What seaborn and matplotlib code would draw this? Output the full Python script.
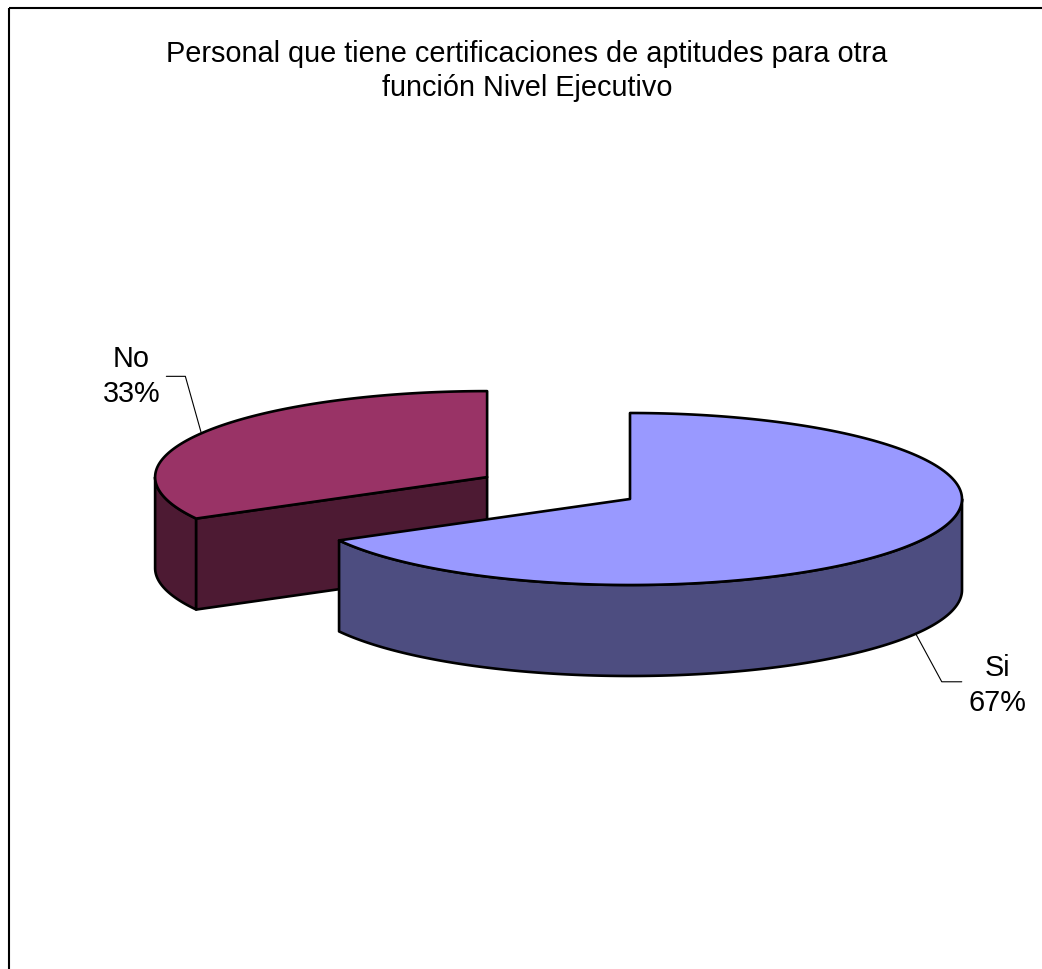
import numpy as np
import matplotlib
matplotlib.use("Agg")
import matplotlib.pyplot as plt
from matplotlib.patches import Polygon, Rectangle
import seaborn as sns

# Data
categories = ["Si", "No"]
values = [67, 33]
pct_labels = ["67%", "33%"]
explode = [0.0, 0.5]
top_colors = ["#9999FF", "#993366"]
side_colors = ["#4D4D80", "#4D1A33"]

title = "Personal que tiene certificaciones de aptitudes para otra\nfunción Nivel Ejecutivo"

sns.set_theme(style="white")
plt.rcParams["font.family"] = ["Liberation Sans", "DejaVu Sans"]

W, H = 1042, 969
fig = plt.figure(figsize=(W / 100, H / 100), dpi=100)
ax = fig.add_axes([0, 0, 1, 1])
ax.set_xlim(0, W)
ax.set_ylim(H, 0)
ax.axis("off")

# Chart frame (extends past the right and bottom edges)
ax.add_patch(Rectangle((9, 8), 1200, 1200, fill=False, edgecolor="black",
                       linewidth=1.5, zorder=0))

# 3D pie geometry (screen units, y pointing down)
cx0, cy0 = 630, 499
A, B = 332, 86
DEPTH = 91
EDGE = dict(edgecolor="black", linewidth=1.9, joinstyle="round")


def rim(cx, cy, t, dz=0.0):
    return cx + A * np.cos(t), cy - B * np.sin(t) + dz


def arc(cx, cy, t1, t2, dz=0.0, n=200):
    ts = np.linspace(t1, t2, n)
    x, y = rim(cx, cy, ts, dz)
    return np.column_stack([x, y])


total = float(sum(values))
start = np.pi / 2
slices = []
for i, v in enumerate(values):
    span = 2 * np.pi * v / total
    t2 = start
    t1 = start - span
    start = t1
    mid = (t1 + t2) / 2
    cx = cx0 + explode[i] * A * np.cos(mid)
    cy = cy0 - explode[i] * B * np.sin(mid)
    slices.append(dict(i=i, t1=t1, t2=t2, mid=mid, cx=cx, cy=cy))

# draw slices from back to front
slices.sort(key=lambda s: s["cy"])

for order, s in enumerate(slices):
    i, t1, t2, cx, cy = s["i"], s["t1"], s["t2"], s["cx"], s["cy"]
    z = 2 + 3 * order
    # outer wall: portion of the arc facing the viewer (sin < 0)
    for k in range(-2, 3):
        lo = max(t1, -np.pi + 2 * np.pi * k)
        hi = min(t2, 0 + 2 * np.pi * k)
        if hi > lo:
            top = arc(cx, cy, lo, hi)
            bot = arc(cx, cy, hi, lo, DEPTH)
            ax.add_patch(Polygon(np.vstack([top, bot]), closed=True,
                                 facecolor=side_colors[i], zorder=z, **EDGE))
    # radial faces
    for t, visible in ((t1, np.cos(t1) > 1e-9), (t2, np.cos(t2) < -1e-9)):
        if visible:
            px, py = rim(cx, cy, t)
            quad = [(cx, cy), (px, py), (px, py + DEPTH), (cx, cy + DEPTH)]
            ax.add_patch(Polygon(quad, closed=True, facecolor=side_colors[i],
                                 zorder=z + 1, **EDGE))
    # top face
    pts = np.vstack([[cx, cy], arc(cx, cy, t1, t2), [cx, cy]])
    ax.add_patch(Polygon(pts, closed=True, facecolor=top_colors[i],
                         zorder=z + 2, **EDGE))

# Category labels with leader lines
FS = 20.8
lab_font = dict(fontsize=FS, color="black", ha="center", va="center",
                linespacing=1.3, zorder=20)
for s in slices:
    i, mid, cx, cy = s["i"], s["mid"], s["cx"], s["cy"]
    if np.sin(mid) > 0:
        ax_, ay_ = rim(cx, cy, mid)
        elbow = (ax_ - 16, ay_ - 57)
        end = (elbow[0] - 19, elbow[1])
        ax.plot([ax_, elbow[0], end[0]], [ay_, elbow[1], end[1]],
                color="black", linewidth=0.8, zorder=20)
        ax.text(end[0] - 35, end[1], f"{categories[i]}\n{pct_labels[i]}",
                **lab_font)
    else:
        ax_, ay_ = rim(cx, cy, mid, DEPTH)
        elbow = (ax_ + 26, ay_ + 48)
        end = (elbow[0] + 20, elbow[1])
        ax.plot([ax_, elbow[0], end[0]], [ay_, elbow[1], end[1]],
                color="black", linewidth=0.8, zorder=20)
        ax.text(end[0] + 36, end[1] + 4, f"{categories[i]}\n{pct_labels[i]}",
                **lab_font)

ax.text(527, 71, title, fontsize=FS, ha="center", va="center",
        linespacing=1.3, color="black", zorder=20)

fig.savefig("out.png", dpi=100, facecolor="white")
